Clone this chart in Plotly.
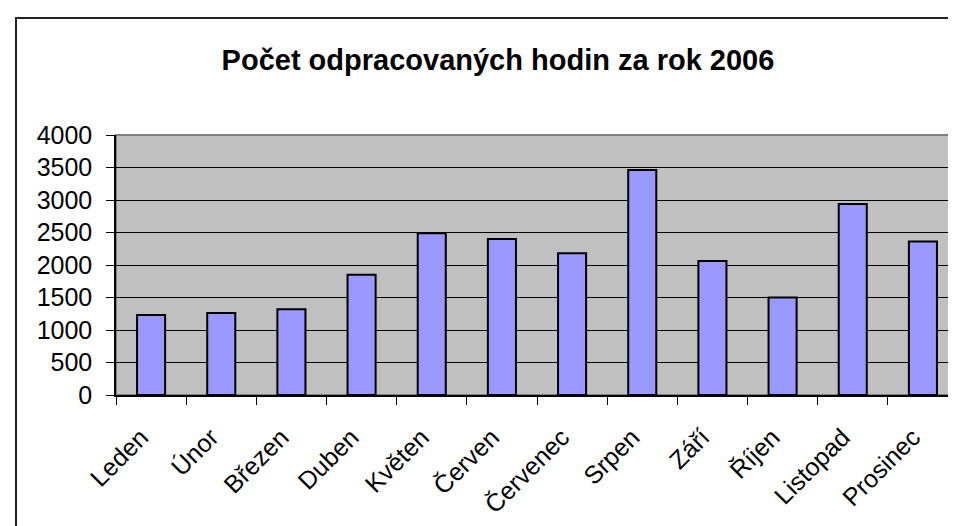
import plotly.graph_objects as go

months = ["Leden", "Únor", "Březen", "Duben", "Květen", "Červen",
          "Červenec", "Srpen", "Září", "Říjen", "Listopad", "Prosinec"]
hours = [1230, 1260, 1320, 1850, 2490, 2400, 2180, 3460, 2060, 1500, 2940, 2360]
y_ticks = [0, 500, 1000, 1500, 2000, 2500, 3000, 3500, 4000]
title_text = "Počet odpracovaných hodin za rok 2006"

W, H = 956, 526
L, R, T, B = 108, 950, 127, 387
pw, ph = R - L, B - T

fig = go.Figure(go.Bar(
    x=months, y=hours, width=0.4,
    marker=dict(color="#9999FF", line=dict(color="black", width=2)),
))

fig.update_layout(
    width=W, height=H,
    margin=dict(l=L, r=W - R, t=T, b=H - B, pad=0),
    paper_bgcolor="white", plot_bgcolor="#C0C0C0",
    font=dict(family="Liberation Sans, Arial, sans-serif", color="black", size=25),
    showlegend=False,
    title=dict(text="<b>" + title_text + "</b>", x=490 / W, xanchor="center",
               y=1 - 52 / H, yanchor="middle",
               font=dict(size=29, family="Liberation Sans, Arial, sans-serif")),
    bargap=0.6,
)
fig.update_yaxes(
    range=[0, 4000], tickvals=y_ticks, showgrid=True, gridcolor="black", gridwidth=1,
    showline=True, linecolor="black", linewidth=1.5, ticks="outside", ticklen=8,
    tickcolor="black", tickwidth=1, ticklabelstandoff=9, zeroline=False,
)
fig.update_xaxes(
    showline=True, linecolor="black", linewidth=1.5, ticks="outside", ticklen=8,
    tickcolor="black", tickwidth=1, tickson="boundaries", tickangle=-45, showgrid=False,
    ticklabelstandoff=16, ticklabelshift=-10,
)

# plot-area gray border (top/right)
fig.add_shape(type="rect", xref="paper", yref="paper", x0=0, x1=1, y0=0, y1=1,
              line=dict(color="#808080", width=2), layer="below")
# outer chart frame
fig.add_shape(type="rect", xref="paper", yref="paper",
              x0=(8 - L) / pw, x1=(W + 20 - L) / pw,
              y0=-(H + 20 - B) / ph, y1=1 + (T - 10) / ph,
              line=dict(color="#222222", width=2))

fig.write_html("out.html")
